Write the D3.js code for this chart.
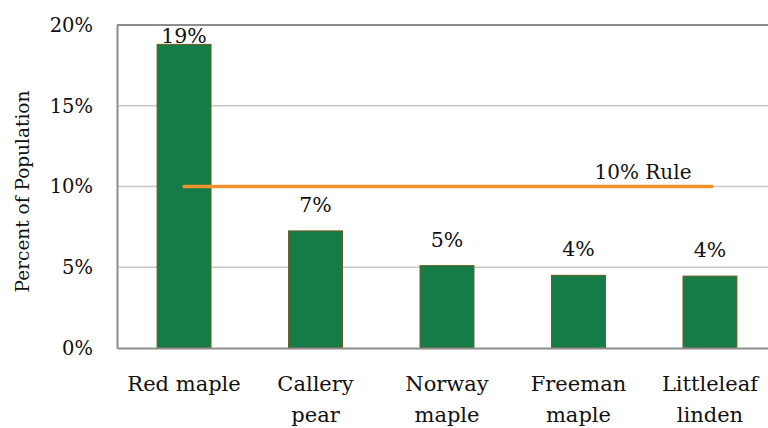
<!DOCTYPE html>
<html><head><meta charset="utf-8">
<script src="https://cdn.jsdelivr.net/npm/d3@7"></script>
<style>body{margin:0;background:#fff}svg{display:block}text{font-family:"DejaVu Serif","Liberation Serif",serif;fill:#111}</style>
</head><body><svg id="c" width="768" height="428"></svg>
<script>
const categories = [["Red maple"],["Callery","pear"],["Norway","maple"],["Freeman","maple"],["Littleleaf","linden"]];
const values = [18.8, 7.25, 5.1, 4.5, 4.45];
const valueLabels = ["19%","7%","5%","4%","4%"];
const yTicks = [0,5,10,15,20];
const ruleValue = 10;
const ruleLabel = "10% Rule";

const svg = d3.select("#c");
const m = {left:117, top:25};
const W = 777;
const x = d3.scaleBand().domain(d3.range(categories.length)).range([m.left, W]).paddingInner(0.59).paddingOuter(0.305);
const y = d3.scaleLinear().domain([0,20]).range([348, m.top]);

// gridlines
svg.append("g").selectAll("line").data(yTicks.filter(d=>d>0)).join("line")
  .attr("x1", m.left).attr("x2", 768).attr("y1", d=>y(d)).attr("y2", d=>y(d))
  .attr("stroke", d=>d===20?"#8c8c8c":"#c8c8c8").attr("stroke-width", d=>d===20?2:1.5);

// y axis
const ya = svg.append("g").attr("transform",`translate(${m.left},0)`)
  .call(d3.axisLeft(y).tickValues(yTicks).tickFormat(d=>d+"%").tickSize(0).tickPadding(24));
ya.select(".domain").attr("stroke","#8c8c8c").attr("stroke-width",2);
ya.selectAll("text").style("font-size","19.5px").style("font-family","'DejaVu Serif',serif").attr("fill","#111");

// bars
svg.append("g").selectAll("rect").data(values).join("rect")
  .attr("x",(d,i)=>x(i)).attr("width",x.bandwidth())
  .attr("y",d=>y(d)).attr("height",d=>y(0)-y(d))
  .attr("fill","#157c47").attr("stroke","#6b5a1e").attr("stroke-width",1);

// x axis
const xa = svg.append("g").attr("transform",`translate(0,${y(0)})`)
  .call(d3.axisBottom(x).tickSize(0).tickFormat(""));
xa.select(".domain").attr("stroke","#8c8c8c").attr("stroke-width",2);
xa.selectAll(".tick").each(function(i){
  const t = d3.select(this).append("text").attr("text-anchor","middle").style("font-size","21px").attr("fill","#111");
  categories[i].forEach((s,k)=>t.append("tspan").attr("x",0).attr("y",43+k*31).text(s));
});

// rule line
svg.append("line").attr("x1",x(0)+x.bandwidth()/2).attr("x2",x(categories.length-1)+x.bandwidth()/2+2)
  .attr("y1",y(ruleValue)).attr("y2",y(ruleValue))
  .attr("stroke","#f0922e").attr("stroke-width",3.5).attr("stroke-linecap","round");
svg.append("text").attr("x",643).attr("y",y(ruleValue)-8).attr("text-anchor","middle").style("font-size","20px").text(ruleLabel);

// value labels
svg.append("g").selectAll("text").data(values).join("text")
  .attr("x",(d,i)=>x(i)+x.bandwidth()/2)
  .attr("y",(d,i)=> i===0 ? y(d)-1 : y(d)-19)
  .attr("text-anchor","middle").style("font-size","20.5px").text((d,i)=>valueLabels[i]);

// y title
svg.append("text").attr("transform",`translate(29,${(y(0)+y(20))/2+5}) rotate(-90)`)
  .attr("text-anchor","middle").style("font-size","18.5px").text("Percent of Population");
</script></body></html>
